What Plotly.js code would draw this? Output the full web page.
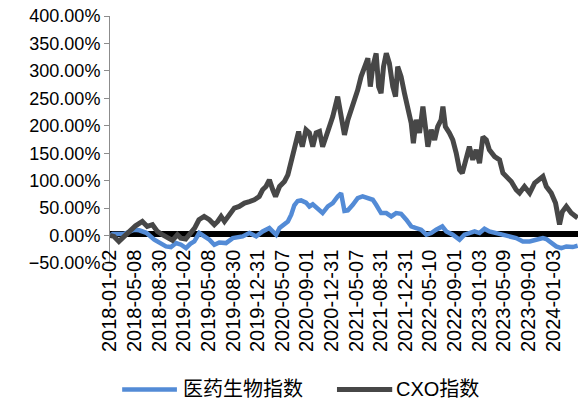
<!DOCTYPE html>
<html>
<head>
<meta charset="utf-8">
<script src="https://cdn.plot.ly/plotly-3.0.1.min.js"></script>
<style>html,body{margin:0;padding:0;background:#fff;}#chart{width:578px;height:401px;}</style>
</head>
<body>
<div id="chart"></div>
<script>
// trading-day index (0 = 2018-01-02) and cumulative return (%)
var tickIdx = [0,80,160,240,320,400,480,560,640,720,800,880,960,1040,1120,1200,1280,1360,1440];
var tickLabels = ['2018-01-02','2018-05-08','2018-08-30','2019-01-02','2019-05-08','2019-08-30','2019-12-31',
  '2020-05-07','2020-09-01','2020-12-31','2021-05-07','2021-08-31','2021-12-31','2022-05-10','2022-09-01',
  '2023-01-03','2023-05-09','2023-09-01','2024-01-03'];
var seriesNames = ['医药生物指数', 'CXO指数'];

var medIdx = [0,9,46,79,95,118,144,160,182,198,215,231,247,261,274,290,307,323,339,355,377,399,431,453,475,496,518,540,551,567,578,589,599,610,621,637,648,659,675,691,708,724,740,745,751,762,773,789,805,821,838,854,865,881,898,914,930,946,963,979,995,1011,1028,1044,1060,1080,1093,1114,1136,1152,1168,1185,1201,1217,1233,1255,1277,1299,1320,1342,1364,1385,1407,1418,1434,1450,1467,1483,1504,1520];
var medVal = [0,3,3.3,10.6,9.6,5,-7.6,-13,-19.8,-21,-13.7,-16.7,-22.8,-15,-10.7,4.6,-1.6,-7.6,-16.7,-12.6,-13.7,-4.6,-1.6,4.6,-1.6,7.5,13.7,1.5,13.7,19.7,25.7,37.9,55,63,64,60,53,57,50,41,53,59.2,71.2,75,77,45,46,56,68.3,71.2,68.3,65.2,56,41,41,34.8,41,39.7,28.8,16.6,13.7,10.6,1.5,4.6,10.6,16.6,7.5,1.5,-7.6,1.5,4.6,7.5,4.6,12.4,7.5,4.6,1.5,-1.6,-4.6,-10.7,-10.7,-7.6,-4.6,-6.4,-13.7,-19.8,-22.8,-19.8,-21,-18.6];

var cxoIdx = [0,13,29,46,62,83,105,121,138,154,170,186,203,219,230,246,262,275,289,306,323,339,350,361,372,388,404,420,437,453,469,485,496,507,518,529,538,551,567,578,585,592,599,607,613,616,625,637,648,659,670,681,691,702,713,724,740,751,762,773,784,794,805,816,827,838,846,854,865,873,881,889,898,908,919,928,935,946,957,968,979,986,995,1006,1017,1025,1033,1044,1055,1065,1076,1082,1090,1103,1114,1125,1136,1145,1158,1168,1179,1190,1201,1212,1223,1233,1250,1266,1277,1288,1304,1320,1331,1347,1364,1380,1391,1407,1418,1434,1448,1461,1470,1483,1499,1510,1520];
var cxoVal = [0,-1.6,-10.7,-1.6,7.5,17.8,25.7,16.6,19.7,7.5,1.5,-4.6,-8.9,1.5,-4.6,-6.4,4.6,13.7,28.8,34.8,28.8,19.7,25.7,34.8,25.7,37.9,50,53,59.2,62,65.2,71.2,83.4,89.4,101.6,83.4,71.2,89.4,98.5,110.7,125.8,147,162,180,189.5,180,162,192.6,187,162,187,189.5,162,180,198.6,216.8,253,216.8,183.5,210.8,229,247,265,289.6,307.8,323,271.4,307.8,332,271.4,259.4,307.8,332,314,271.4,253,307.8,289.6,259.4,229,204.8,168.4,210.8,187,235,198.6,162,192.6,174.4,198.6,210.8,235,198.6,187,174.4,150.7,119.8,113.8,144,162,138,156,132,180,174.4,156,144,138,113.8,107.6,98.5,83.4,77.4,89.4,77.4,95.6,101.6,107.6,89.4,77.4,59.2,20,43.3,53,41,34.8,32];

var FONT = 'Liberation Sans, Arial, "Noto Sans CJK SC", sans-serif';
var COLORS = ['#538bd6', '#474747'];
var WIDTHS = [4.5, 5];

var traces = [
  {x: medIdx, y: medVal, type: 'scatter', mode: 'lines', name: seriesNames[0],
   line: {color: COLORS[0], width: WIDTHS[0]}},
  {x: cxoIdx, y: cxoVal, type: 'scatter', mode: 'lines', name: seriesNames[1],
   line: {color: COLORS[1], width: WIDTHS[1]}}
];

// legend drawn as line samples + labels under the plot
var legY = -0.512;
var legSpec = [{x0: 0.026, x1: 0.143, tx: 0.152}, {x0: 0.485, x1: 0.603, tx: 0.606}];
var shapes = [{type: 'line', xref: 'paper', x0: 0, x1: 1, yref: 'y', y0: 3, y1: 3,
    line: {color: '#000', width: 6}, layer: 'below'}];
var annotations = [];
legSpec.forEach(function (s, k) {
  shapes.push({type: 'line', xref: 'paper', yref: 'paper', x0: s.x0, x1: s.x1, y0: legY, y1: legY,
    line: {color: COLORS[k], width: WIDTHS[k]}});
  annotations.push({xref: 'paper', yref: 'paper', x: s.tx, y: legY, xanchor: 'left', yanchor: 'middle',
    text: seriesNames[k], showarrow: false, font: {family: FONT, size: 20, color: '#000'}});
});

var layout = {
  width: 578, height: 401,
  margin: {l: 110, r: 0, t: 16, b: 138},
  paper_bgcolor: '#fff', plot_bgcolor: '#fff',
  font: {family: FONT, size: 18, color: '#000'},
  showlegend: false,
  xaxis: {range: [0, 1521], tickmode: 'array', tickvals: tickIdx, ticktext: tickLabels,
    tickangle: -90, anchor: 'free', position: 0.074, showline: false, showgrid: false,
    zeroline: false, ticks: '', tickfont: {size: 20}, automargin: false},
  yaxis: {range: [-50, 400], dtick: 50, tick0: 0, tickformat: '.2f', ticksuffix: '%',
    showgrid: false, zeroline: false, showline: true, linecolor: '#8c8c8c', linewidth: 1,
    ticks: 'outside', ticklen: 5, tickcolor: '#8c8c8c', tickfont: {size: 18}, automargin: false},
  shapes: shapes,
  annotations: annotations
};

Plotly.newPlot('chart', traces, layout, {displayModeBar: false, staticPlot: true});
</script>
</body>
</html>
